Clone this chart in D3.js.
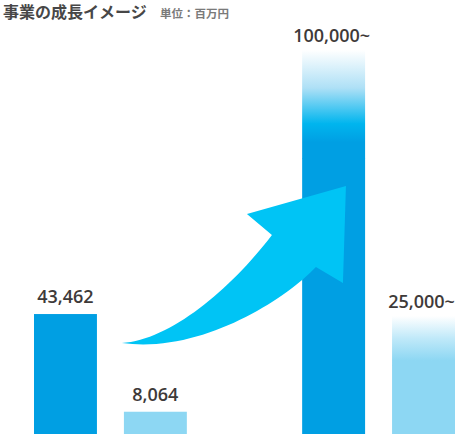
<!DOCTYPE html>
<html>
<head>
<meta charset="utf-8">
<script src="https://cdn.jsdelivr.net/npm/d3@7"></script>
<style>
  body { margin: 0; background: #fff; }
  svg { display: block; }
  .title { font-family: "Noto Sans CJK JP", sans-serif; font-weight: bold; }
  .label { font-family: "Open Sans", sans-serif; font-size: 18px; font-weight: 600; fill: #3e3a39; }
</style>
</head>
<body>
<svg id="chart"></svg>
<script>
// data
const groups = ["now", "future"];
const series = ["main", "sub"];
const values = [43462, 8064, 100000, 25000];
const labels = ["43,462", "8,064", "100,000~", "25,000~"];
const openEnded = [false, false, true, true];

const width = 468;
const height = 434;

const svg = d3.select("#chart")
    .attr("width", width)
    .attr("height", height);

const rows = values.map((v, i) => ({
    group: groups[Math.floor(i / 2)],
    kind: series[i % 2],
    value: v,
    label: labels[i],
    open: openEnded[i],
    i: i
}));

// scales
const x0 = d3.scaleBand()
    .domain(groups)
    .range([34, 455])
    .paddingInner(0.43)
    .paddingOuter(0);

const x1 = d3.scaleBand()
    .domain(series)
    .range([0, x0.bandwidth()])
    .paddingInner(0.3)
    .paddingOuter(0);

const y = d3.scaleLinear()
    .domain([0, 100000])
    .range([height, height - 276]);

const barX = d => x0(d.group) + x1(d.kind);
const bw = x1.bandwidth();

// how far the fade runs above an open-ended bar (px)
const fadeExtra = {2: 108, 3: 49};

const colors = {main: "#009fe3", sub: "#8dd7f3"};

// gradients
const defs = svg.append("defs");
const gMain = defs.append("linearGradient")
    .attr("id", "fadeMain").attr("x1", 0).attr("y1", 0).attr("x2", 0).attr("y2", 1);
gMain.append("stop").attr("offset", "0%").attr("stop-color", "#ffffff");
gMain.append("stop").attr("offset", "35%").attr("stop-color", "#aee0f6");
gMain.append("stop").attr("offset", "68%").attr("stop-color", "#00b5ee");
gMain.append("stop").attr("offset", "85%").attr("stop-color", "#009fe3");
gMain.append("stop").attr("offset", "100%").attr("stop-color", "#009fe3");

const gSub = defs.append("linearGradient")
    .attr("id", "fadeSub").attr("x1", 0).attr("y1", 0).attr("x2", 0).attr("y2", 1);
gSub.append("stop").attr("offset", "0%").attr("stop-color", "#ffffff");
gSub.append("stop").attr("offset", "45%").attr("stop-color", "#c0e9f9");
gSub.append("stop").attr("offset", "90%").attr("stop-color", "#8dd7f3");
gSub.append("stop").attr("offset", "100%").attr("stop-color", "#8dd7f3");

// solid bars
svg.selectAll(".bar")
    .data(rows)
    .enter().append("rect")
    .attr("class", "bar")
    .attr("x", d => barX(d))
    .attr("y", d => y(d.value))
    .attr("width", bw)
    .attr("height", d => height - y(d.value))
    .attr("fill", d => colors[d.kind]);

// fading extension above open-ended bars
svg.selectAll(".fade")
    .data(rows.filter(d => d.open))
    .enter().append("rect")
    .attr("class", "fade")
    .attr("x", d => barX(d))
    .attr("y", d => y(d.value) - fadeExtra[d.i])
    .attr("width", bw)
    .attr("height", d => fadeExtra[d.i] + 0.5)
    .attr("fill", d => d.kind == "main" ? "url(#fadeMain)" : "url(#fadeSub)");

// value labels
svg.selectAll(".label")
    .data(rows)
    .enter().append("text")
    .attr("class", "label")
    .attr("x", d => barX(d) + bw / 2 + (d.open ? -2 : 0))
    .attr("y", d => y(d.value) - (d.open ? fadeExtra[d.i] : 0) - (d.open ? 8 : 11))
    .attr("text-anchor", "middle")
    .text(d => d.label);

// growth arrow, anchored to first and third bar
const ox = barX(rows[0]) + bw;   // right edge of first bar
const oy = height;
const p = d3.path();
p.moveTo(ox + 25, oy - 91);                       // tail
p.bezierCurveTo(ox + 73, oy - 94, ox + 133, oy - 144, ox + 175, oy - 199);
p.lineTo(ox + 150, oy - 220);                     // left barb
p.lineTo(ox + 249, oy - 248);                     // tip
p.lineTo(ox + 246, oy - 151);
p.lineTo(ox + 219, oy - 167);                     // right barb
p.bezierCurveTo(ox + 188, oy - 134, ox + 103, oy - 80, ox + 25, oy - 91);
p.closePath();

svg.append("path")
    .attr("d", p.toString())
    .attr("fill", "#00c4f5");

// title
svg.append("text")
    .attr("class", "title")
    .attr("x", 3)
    .attr("y", 18)
    .attr("font-size", 16)
    .attr("fill", "#474747")
    .text("事業の成長イメージ");

svg.append("text")
    .attr("class", "title")
    .attr("x", 160)
    .attr("y", 18)
    .attr("font-size", 11.5)
    .attr("fill", "#7a7a7a")
    .text("単位：百万円");
</script>
</body>
</html>
